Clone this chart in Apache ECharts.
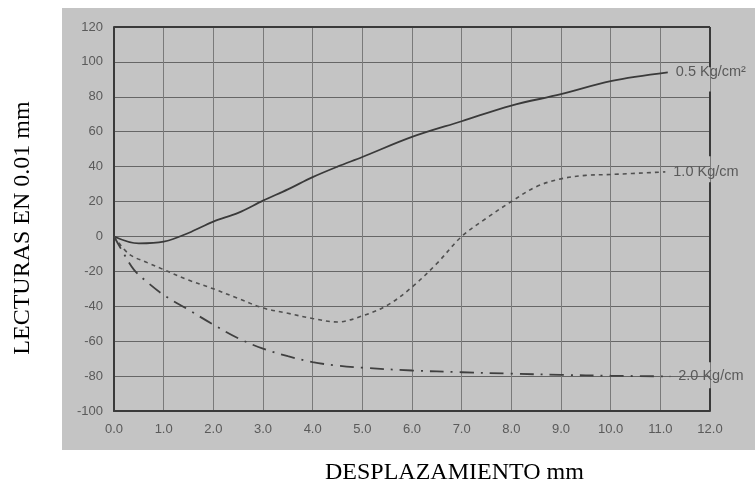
<!DOCTYPE html>
<html>
<head>
<meta charset="utf-8">
<script src="https://cdn.jsdelivr.net/npm/echarts@6/dist/echarts.min.js"></script>
<style>
  html, body { margin: 0; padding: 0; background: #ffffff; }
  #chart { width: 755px; height: 487px; }
</style>
</head>
<body>
<div id="chart"></div>
<script>
// Displacement (mm) vs. dial readings (0.01 mm) for three normal loads
const xTicks = ['0.0', '1.0', '2.0', '3.0', '4.0', '5.0', '6.0', '7.0', '8.0', '9.0', '10.0', '11.0', '12.0'];

const load05Name = '0.5 Kg/cm²';
const load05X = [0, 0.5, 1.0, 1.5, 2.0, 2.5, 3.0, 3.5, 4.0, 4.5, 5.0, 6.0, 7.0, 8.0, 9.0, 10.0, 11.15];
const load05Y = [0, -4, -3, 2, 8.5, 13.5, 20.5, 27, 34, 40, 45.5, 57, 66, 75, 81.5, 89, 94];

const load10Name = '1.0 Kg/cm';
const load10X = [0, 0.3, 0.67, 1.0, 1.5, 2.0, 2.5, 3.0, 3.5, 4.0, 4.5, 5.0, 5.5, 6.0, 6.5, 7.0, 7.5, 8.0, 8.5, 9.0, 9.5, 10.0, 11.1];
const load10Y = [0, -10, -15, -19, -25, -30, -35.5, -41, -44, -47, -49, -45.5, -39.5, -29, -15.5, 0, 10.5, 20, 28.5, 33, 35, 35.5, 37];

const load20Name = '2.0 Kg/cm';
const load20X = [0, 0.2, 0.4, 0.6, 1.0, 1.5, 2.0, 2.5, 3.0, 3.5, 4.0, 4.5, 5.0, 6.0, 7.0, 8.0, 9.0, 10.0, 11.2];
const load20Y = [0, -10, -19, -24.5, -33.5, -42, -50.5, -58.3, -64.3, -68.6, -72, -74, -75.2, -76.8, -77.8, -78.6, -79.3, -79.8, -80.2];

// Right frame edge is interrupted where the curve labels sit
const rightFrame = [[-100, -87], [-72, 31], [46, 83], [97, 120]];

const pairs = (xs, ys) => xs.map((x, i) => [x, ys[i]]);

const ink = '#3a3a3a';
const printGray = '#5a5a5a';
const titleFont = { fontFamily: 'Liberation Serif', fontWeight: 'normal', fontSize: 24, color: '#000' };

const chart = echarts.init(document.getElementById('chart'), null, { renderer: 'canvas' });

const endLabel = (text) => ({
  show: true,
  formatter: text,
  color: printGray,
  fontFamily: 'Liberation Sans',
  fontSize: 14.5,
  distance: 8
});

chart.setOption({
  animation: false,
  backgroundColor: '#ffffff',
  graphic: [
    {
      type: 'rect',
      z: -10,
      silent: true,
      shape: { x: 62, y: 8, width: 693, height: 442 },
      style: { fill: '#c4c4c4' }
    },
    {
      // vertical axis title
      type: 'text',
      silent: true,
      x: 23,
      y: 228,
      rotation: Math.PI / 2,
      style: Object.assign({ text: 'LECTURAS EN 0.01 mm', align: 'center', verticalAlign: 'middle',
        font: 'normal 24px "Liberation Serif"', fill: '#000' })
    }
  ],
  title: {
    text: 'DESPLAZAMIENTO mm',
    left: 325,
    top: 461,
    padding: 0,
    textStyle: titleFont
  },
  grid: { left: 114, right: 45, top: 27, bottom: 76, containLabel: false },
  xAxis: {
    type: 'value',
    min: 0, max: 12, interval: 1,
    axisLine: { show: true, onZero: false, lineStyle: { color: ink, width: 2 } },
    axisTick: { show: false },
    axisLabel: {
      margin: 12,
      color: printGray,
      fontFamily: 'Liberation Sans',
      fontSize: 13,
      formatter: (v) => xTicks[Math.round(v)]
    },
    splitLine: { show: true, lineStyle: { color: '#7a7a7a', width: 1 } }
  },
  yAxis: {
    type: 'value',
    min: -100, max: 120, interval: 20,
    axisLine: { show: true, onZero: false, lineStyle: { color: ink, width: 2 } },
    axisTick: { show: false },
    axisLabel: { margin: 11, color: printGray, fontFamily: 'Liberation Sans', fontSize: 13 },
    splitLine: { show: true, lineStyle: { color: '#666666', width: 1 } }
  },
  series: [
    {
      name: load05Name,
      type: 'line',
      data: pairs(load05X, load05Y),
      smooth: 0.35,
      showSymbol: false,
      lineStyle: { color: ink, width: 1.8, type: 'solid' },
      endLabel: endLabel(load05Name),
      markLine: {
        silent: true,
        symbol: 'none',
        label: { show: false },
        lineStyle: { color: ink, width: 2, type: 'solid' },
        data: [[{ coord: [0, 120] }, { coord: [12, 120] }]].concat(
          rightFrame.map((seg) => [{ coord: [12, seg[0]] }, { coord: [12, seg[1]] }])
        )
      }
    },
    {
      name: load10Name,
      type: 'line',
      data: pairs(load10X, load10Y),
      smooth: 0.35,
      showSymbol: false,
      lineStyle: { color: '#505050', width: 1.6, type: [4, 4] },
      endLabel: endLabel(load10Name)
    },
    {
      name: load20Name,
      type: 'line',
      data: pairs(load20X, load20Y),
      smooth: 0.35,
      showSymbol: false,
      lineStyle: { color: '#404040', width: 1.8, type: [14, 7, 2, 7] },
      endLabel: endLabel(load20Name)
    }
  ]
});
</script>
</body>
</html>
